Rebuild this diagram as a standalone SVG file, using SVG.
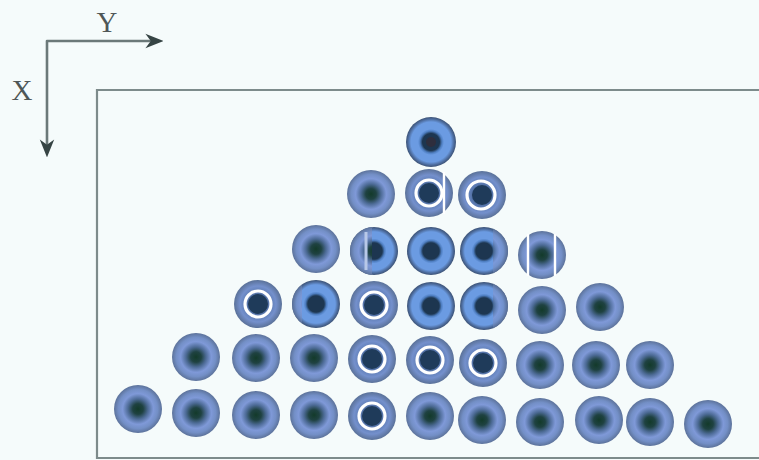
<svg xmlns="http://www.w3.org/2000/svg" width="759" height="460" viewBox="0 0 759 460">
<style>
.axis{fill:none;stroke:#6b7979;stroke-width:2.6;stroke-linejoin:round}
.lbl{font-family:"Liberation Serif","Times New Roman",serif;font-size:29px;fill:#4f5757;text-anchor:middle}
.frame{fill:none;stroke:#7d8b8b;stroke-width:2.2}
.soft{fill:url(#gSoft)}
.crisp{fill:url(#gCrisp)}
.rbase{fill:url(#gRing)}
.rcore{fill:#1f3b5a}
.rwhite{fill:none;stroke:#ffffff;stroke-width:3.2}
.vl{stroke:#ffffff;stroke-width:2.4}
</style>
<defs>
<radialGradient id="gSoft" cx="50%" cy="50%" r="50%">
<stop offset="0" stop-color="#133a2a"/>
<stop offset="0.22" stop-color="#1f4242"/>
<stop offset="0.42" stop-color="#4d6b96"/>
<stop offset="0.64" stop-color="#7f99d8"/>
<stop offset="0.82" stop-color="#738fc6"/>
<stop offset="1" stop-color="#5c729a"/>
</radialGradient>
<radialGradient id="gCrisp" cx="50%" cy="50%" r="50%">
<stop offset="0" stop-color="#1d3650"/>
<stop offset="0.34" stop-color="#1d3650"/>
<stop offset="0.44" stop-color="#4f7fc2"/>
<stop offset="0.52" stop-color="#6b9be2"/>
<stop offset="0.8" stop-color="#6b9be2"/>
<stop offset="0.92" stop-color="#4c6b9c"/>
<stop offset="1" stop-color="#3c5275"/>
</radialGradient>
<radialGradient id="gRing" cx="50%" cy="50%" r="50%">
<stop offset="0" stop-color="#1d3858"/>
<stop offset="0.5" stop-color="#5d7cb4"/>
<stop offset="0.75" stop-color="#7490cc"/>
<stop offset="1" stop-color="#5a7198"/>
</radialGradient>
<marker id="ah" viewBox="0 0 10 10" refX="7" refY="5" markerWidth="18" markerHeight="18" markerUnits="userSpaceOnUse" orient="auto-start-reverse">
<path d="M0,1 L10,5 L0,9 L3,5 z" fill="#364444"/>
</marker>
<clipPath id="cl374"><rect x="340" y="220" width="32" height="70"/></clipPath>
<clipPath id="cl316"><rect x="280" y="270" width="22" height="70"/></clipPath>
<clipPath id="cl484a"><rect x="493" y="220" width="40" height="70"/></clipPath>
<clipPath id="cl484b"><rect x="493" y="275" width="40" height="70"/></clipPath>
</defs>
<rect width="759" height="460" fill="#f5fbfb"/>

<g id="axes">
<path class="axis" d="M158,41 L47,41 L47,152" marker-start="url(#ah)" marker-end="url(#ah)"/>
<text class="lbl" x="107" y="32">Y</text>
<text class="lbl" x="22" y="100">X</text>
</g>

<g id="frame">
<path class="frame" d="M760,90 L97,90 L97,458 L760,458"/>
</g>

<g id="connectors"></g>

<!-- row 1 -->
<g id="n1-1"><circle class="crisp" cx="431" cy="142" r="25"/><circle cx="431" cy="142" r="5" fill="#3a2a30" opacity="0.6"/></g>
<!-- row 2 -->
<g id="n2-1"><circle class="soft" cx="371" cy="194" r="24"/></g>
<g id="n2-2"><circle class="rbase" cx="429" cy="193" r="24"/><circle class="rcore" cx="429" cy="193" r="10"/><circle class="rwhite" cx="429" cy="193" r="13"/><line class="vl" x1="444" y1="172" x2="444" y2="214"/></g>
<g id="n2-3"><circle class="rbase" cx="482" cy="195" r="24"/><circle class="rcore" cx="482" cy="195" r="10"/><circle class="rwhite" cx="481" cy="195" r="14" stroke-width="4"/></g>
<!-- row 3 -->
<g id="n3-1"><circle class="soft" cx="316" cy="249" r="24"/></g>
<g id="n3-2"><circle class="crisp" cx="374" cy="251" r="24"/><circle class="soft" cx="374" cy="251" r="24" clip-path="url(#cl374)"/><line x1="366" y1="232" x2="366" y2="270" stroke="#b8c8e8" stroke-width="3"/></g>
<g id="n3-3"><circle class="crisp" cx="431" cy="251" r="24"/></g>
<g id="n3-4"><circle class="crisp" cx="484" cy="251" r="24"/><circle class="soft" cx="484" cy="251" r="24" clip-path="url(#cl484a)" opacity="0.8"/></g>
<g id="n3-5"><circle class="soft" cx="542" cy="255" r="24"/><line class="vl" x1="528" y1="234" x2="528" y2="276"/><line class="vl" x1="555" y1="234" x2="555" y2="276"/></g>
<!-- row 4 -->
<g id="n4-1"><circle class="rbase" cx="258" cy="304" r="24"/><circle class="rcore" cx="258" cy="304" r="10"/><circle class="rwhite" cx="258" cy="304" r="13"/></g>
<g id="n4-2"><circle class="crisp" cx="316" cy="304" r="24"/><circle class="soft" cx="316" cy="304" r="24" clip-path="url(#cl316)" opacity="0.85"/></g>
<g id="n4-3"><circle class="rbase" cx="374" cy="305" r="24"/><circle class="rcore" cx="374" cy="305" r="10"/><circle class="rwhite" cx="374" cy="305" r="13"/></g>
<g id="n4-4"><circle class="crisp" cx="431" cy="306" r="24"/></g>
<g id="n4-5"><circle class="crisp" cx="484" cy="306" r="24"/><circle class="soft" cx="484" cy="306" r="24" clip-path="url(#cl484b)" opacity="0.8"/></g>
<g id="n4-6"><circle class="soft" cx="542" cy="310" r="24"/></g>
<g id="n4-7"><circle class="soft" cx="600" cy="307" r="24"/></g>
<!-- row 5 -->
<g id="n5-1"><circle class="soft" cx="196" cy="357" r="24"/></g>
<g id="n5-2"><circle class="soft" cx="256" cy="358" r="24"/></g>
<g id="n5-3"><circle class="soft" cx="314" cy="358" r="24"/></g>
<g id="n5-4"><circle class="rbase" cx="372" cy="359" r="24"/><circle class="rcore" cx="372" cy="359" r="10"/><circle class="rwhite" cx="372" cy="359" r="13"/></g>
<g id="n5-5"><circle class="rbase" cx="430" cy="360" r="24"/><circle class="rcore" cx="430" cy="360" r="10"/><circle class="rwhite" cx="430" cy="360" r="13"/></g>
<g id="n5-6"><circle class="rbase" cx="483" cy="363" r="24"/><circle class="rcore" cx="483" cy="363" r="10"/><circle class="rwhite" cx="483" cy="363" r="13"/></g>
<g id="n5-7"><circle class="soft" cx="540" cy="365" r="24"/></g>
<g id="n5-8"><circle class="soft" cx="596" cy="365" r="24"/></g>
<g id="n5-9"><circle class="soft" cx="650" cy="365" r="24"/></g>
<!-- row 6 -->
<g id="n6-1"><circle class="soft" cx="138" cy="409" r="24"/></g>
<g id="n6-2"><circle class="soft" cx="196" cy="413" r="24"/></g>
<g id="n6-3"><circle class="soft" cx="256" cy="415" r="24"/></g>
<g id="n6-4"><circle class="soft" cx="314" cy="415" r="24"/></g>
<g id="n6-5"><circle class="rbase" cx="372" cy="416" r="24"/><circle class="rcore" cx="372" cy="416" r="10"/><circle class="rwhite" cx="372" cy="416" r="13"/></g>
<g id="n6-6"><circle class="soft" cx="430" cy="416" r="24"/></g>
<g id="n6-7"><circle class="soft" cx="482" cy="420" r="24"/></g>
<g id="n6-8"><circle class="soft" cx="540" cy="422" r="24"/></g>
<g id="n6-9"><circle class="soft" cx="599" cy="420" r="24"/></g>
<g id="n6-10"><circle class="soft" cx="650" cy="422" r="24"/></g>
<g id="n6-11"><circle class="soft" cx="708" cy="424" r="24"/></g>
</svg>
